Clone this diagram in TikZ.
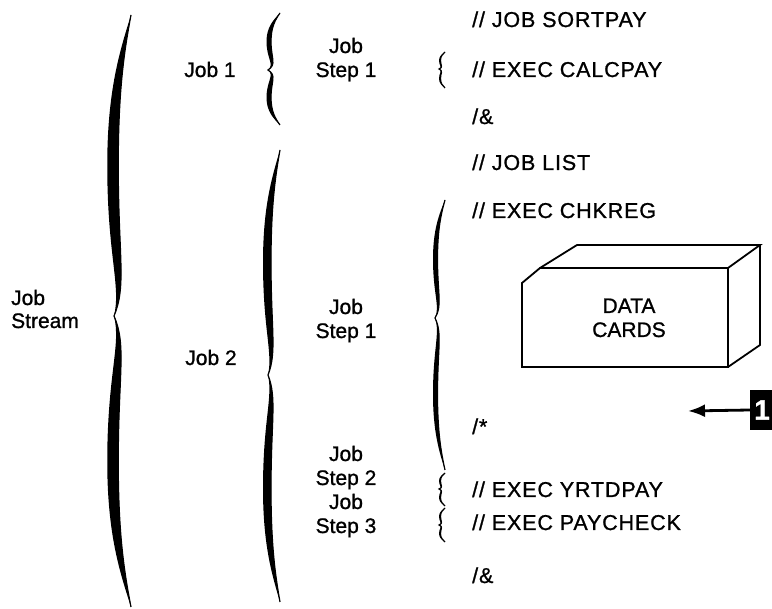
\documentclass[tikz,border=0pt]{standalone}
\usepackage{fontspec}
\setmainfont{Liberation Sans}[FakeBold=1]
\newfontfamily\jclfont{Liberation Sans}[FakeBold=1, LetterSpace=4]
\usetikzlibrary{arrows.meta}

% A hand-lettered curly brace opening to the right:
% #1 x of the two ends, #2 top y, #3 tip y, #4 bottom y, #5 depth, #6 stroke swell
\newcommand{\calbrace}[6]{%
  \pgfmathsetmacro\bx{#1}\pgfmathsetmacro\ba{#2}\pgfmathsetmacro\bt{#3}%
  \pgfmathsetmacro\bb{#4}\pgfmathsetmacro\bd{#5}\pgfmathsetmacro\bw{#6}%
  \pgfmathsetmacro\hu{\bt-\ba}\pgfmathsetmacro\hl{\bb-\bt}%
  \fill[ink] (\bx,\ba)
    .. controls ({\bx-0.4*\bd},{\ba+0.12*\hu}) and ({\bx-0.75*\bd},{\ba+0.25*\hu}) .. ({\bx-0.75*\bd},{\ba+0.5*\hu})
    .. controls ({\bx-0.75*\bd},{\ba+0.8*\hu}) and ({\bx-0.25*\bd},{\bt-0.1*\hu}) .. ({\bx-\bd},\bt)
    .. controls ({\bx-0.25*\bd},{\bt+0.1*\hl}) and ({\bx-0.75*\bd},{\bt+0.2*\hl}) .. ({\bx-0.75*\bd},{\bt+0.5*\hl})
    .. controls ({\bx-0.75*\bd},{\bt+0.75*\hl}) and ({\bx-0.4*\bd},{\bb-0.12*\hl}) .. (\bx,\bb)
    .. controls ({\bx-0.4*\bd-0.4*\bw},{\bb-0.12*\hl}) and ({\bx-0.75*\bd-\bw},{\bt+0.75*\hl}) .. ({\bx-0.75*\bd-\bw},{\bt+0.5*\hl})
    .. controls ({\bx-0.75*\bd-\bw},{\bt+0.2*\hl}) and ({\bx-0.25*\bd-0.5*\bw},{\bt+0.1*\hl}) .. ({\bx-\bd},\bt)
    .. controls ({\bx-0.25*\bd-0.5*\bw},{\bt-0.1*\hu}) and ({\bx-0.75*\bd-\bw},{\ba+0.8*\hu}) .. ({\bx-0.75*\bd-\bw},{\ba+0.5*\hu})
    .. controls ({\bx-0.75*\bd-\bw},{\ba+0.25*\hu}) and ({\bx-0.4*\bd-0.4*\bw},{\ba+0.12*\hu}) .. (\bx,\ba) -- cycle;
  \draw[ink, line width=1.2pt] (\bx,\ba)
    .. controls ({\bx-0.4*\bd},{\ba+0.12*\hu}) and ({\bx-0.75*\bd},{\ba+0.25*\hu}) .. ({\bx-0.75*\bd},{\ba+0.5*\hu})
    .. controls ({\bx-0.75*\bd},{\ba+0.8*\hu}) and ({\bx-0.25*\bd},{\bt-0.1*\hu}) .. ({\bx-\bd},\bt)
    .. controls ({\bx-0.25*\bd},{\bt+0.1*\hl}) and ({\bx-0.75*\bd},{\bt+0.2*\hl}) .. ({\bx-0.75*\bd},{\bt+0.5*\hl})
    .. controls ({\bx-0.75*\bd},{\bt+0.75*\hl}) and ({\bx-0.4*\bd},{\bb-0.12*\hl}) .. (\bx,\bb);
}

\begin{document}
\begin{tikzpicture}[x=1pt, y=-1pt,
  ink/.style={black},
  txt/.style={font=\fontsize{21}{24}\selectfont, inner sep=0pt, text=black},
  jcl/.style={txt, font=\jclfont\fontsize{21.5}{24}\selectfont, anchor=base west},
  lbl/.style={txt, anchor=base},
  lblw/.style={txt, anchor=base west},
  cardline/.style={black, line width=1.8pt, line join=miter},
  onebox/.style={fill=black, text=white, font=\fontsize{28}{28}\selectfont\bfseries,
                 minimum width=24pt, minimum height=40pt, inner sep=0pt},
  pointer/.style={black, line width=2.8pt, -{Latex[length=17pt, width=13pt]}}]
\useasboundingbox (0,0) rectangle (772,609);
\fill[white] (0,0) rectangle (772,609);

% grouping braces
\calbrace{131}{15}{316}{607}{17}{11}
\calbrace{280}{13}{70}{125}{12}{4.5}
\calbrace{280}{150}{375}{602}{12}{8}
\calbrace{445}{200}{318}{470}{10}{4.5}
\calbrace{445}{52}{69}{88}{6}{1.5}
\calbrace{445}{473}{489}{506}{6}{1.5}
\calbrace{445}{508}{525}{542}{6}{1.5}

% hierarchy labels
\node[lblw] (streamA) at (11,305) {Job};
\node[lblw] (streamB) at (11,328) {Stream};
\node[lbl] (job1) at (210,77) {Job 1};
\node[lbl] (job2) at (211,365) {Job 2};
\node[lbl] (s11a) at (346,53) {Job};
\node[lbl] (s11b) at (346,77) {Step 1};
\node[lbl] (s21a) at (346,314) {Job};
\node[lbl] (s21b) at (346,338) {Step 1};
\node[lbl] (s22a) at (346,461) {Job};
\node[lbl] (s22b) at (346,485) {Step 2};
\node[lbl] (s23a) at (346,509) {Job};
\node[lbl] (s23b) at (346,533) {Step 3};

% control statements
\node[jcl] (c1) at (472,27)  {// JOB SORTPAY};
\node[jcl] (c2) at (472,77)  {// EXEC CALCPAY};
\node[jcl] (c3) at (472,124) {/\&};
\node[jcl] (c4) at (472,170) {// JOB LIST};
\node[jcl] (c5) at (472,218) {// EXEC CHKREG};
\node[jcl] (c6) at (472,434) {/*};
\node[jcl] (c7) at (472,497) {// EXEC YRTDPAY};
\node[jcl] (c8) at (472,530) {// EXEC PAYCHECK};
\node[jcl] (c9) at (472,583) {/\&};

% deck of data cards
\draw[cardline] (522,283) -- (540,268) -- (728,268) -- (728,367) -- (522,367) -- cycle;
\draw[cardline] (540,268) -- (577,245) -- (760,245) -- (728,268);
\draw[cardline] (760,245) -- (760,345) -- (728,367);
\node[lbl] (dataA) at (629,313) {DATA};
\node[lbl] (dataB) at (629,337) {CARDS};

% numbered pointer
\node[onebox] (one) at (762,410) {1};
\coordinate (target) at (688,411);
\draw[pointer] (one.west) -- (target);
\end{tikzpicture}
\end{document}
